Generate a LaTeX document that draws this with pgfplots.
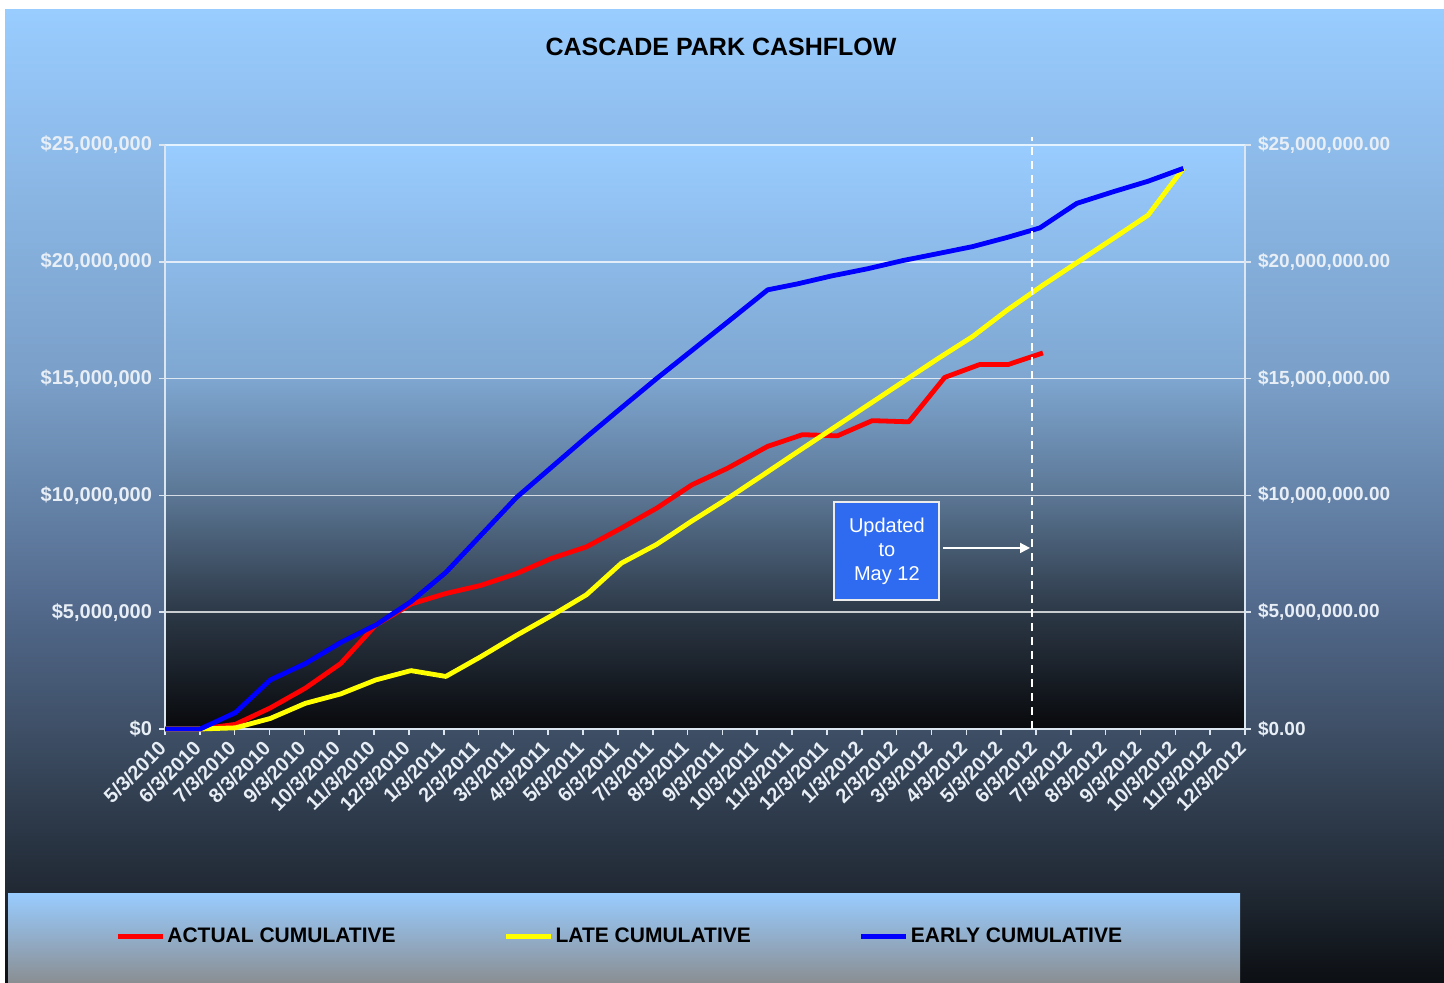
\documentclass[border=0pt]{standalone}
\usepackage{pgfplots}
\pgfplotsset{compat=1.18}
\usepackage{fontspec}
\setmainfont{Liberation Sans}
\usetikzlibrary{arrows.meta}

\definecolor{oA}{HTML}{99CCFF}
\definecolor{oB}{HTML}{7A9FC8}
\definecolor{oC}{HTML}{51688A}
\definecolor{oD}{HTML}{3E4F66}
\definecolor{oE}{HTML}{1E2630}
\definecolor{oF}{HTML}{0C0F13}
\definecolor{pA}{HTML}{99CCFF}
\definecolor{pB}{HTML}{7EA6D0}
\definecolor{pC}{HTML}{5B7694}
\definecolor{pD}{HTML}{2C3846}
\definecolor{pE}{HTML}{08090C}
\definecolor{legA}{HTML}{99CCFF}
\definecolor{legB}{HTML}{8A8E92}
\definecolor{axcol}{HTML}{DCE6F0}
\definecolor{lblcol}{HTML}{E8EEF5}
\definecolor{annblue}{HTML}{2F6BF0}
\definecolor{cRed}{HTML}{FF0000}
\definecolor{cYel}{HTML}{FFFF00}
\definecolor{cBlue}{HTML}{0000FF}

\pgfplotstableread{
x y
0 0
1.01 0
2.02 0.2
3.02 0.9
4.03 1.75
5.04 2.8
6.05 4.45
7.06 5.35
8.06 5.8
9.07 6.15
10.08 6.65
11.09 7.3
12.10 7.8
13.10 8.6
14.11 9.45
15.12 10.45
16.13 11.15
17.30 12.1
18.30 12.6
19.30 12.55
20.30 13.2
21.35 13.15
22.38 15.05
23.38 15.6
24.20 15.6
25.20 16.1
}\actual

\pgfplotstableread{
x y
0 0
1.01 0
2.02 0.05
3.02 0.45
4.03 1.1
5.04 1.5
6.05 2.1
7.06 2.5
8.06 2.25
9.07 3.1
10.08 4.0
11.09 4.85
12.10 5.75
13.10 7.1
14.11 7.9
15.12 8.9
16.13 9.85
17.14 10.85
18.14 11.85
19.15 12.85
20.16 13.85
21.17 14.85
22.18 15.85
23.18 16.8
24.19 17.95
25.20 19.0
26.21 20.0
27.22 21.0
28.22 22.0
29.23 24.0
}\late

\pgfplotstableread{
x y
0 0
1.01 0
2.02 0.7
3.02 2.1
4.03 2.8
5.04 3.7
6.05 4.45
7.06 5.45
8.06 6.7
9.07 8.3
10.08 9.9
11.09 11.2
12.10 12.5
13.10 13.75
14.11 15.0
15.12 16.2
16.13 17.4
17.30 18.8
18.14 19.05
19.15 19.4
20.16 19.7
21.17 20.05
22.18 20.35
23.18 20.65
24.19 21.05
25.11 21.45
26.17 22.5
27.22 23.0
28.22 23.45
29.23 24.0
}\early

\begin{document}
\begin{tikzpicture}
\begin{scope}[x=0.5pt,y=-0.5pt]
  \fill[white] (0,0) rectangle (1444,983);
  \shade[top color=oA, bottom color=oB] (5,10) rectangle (1444,380);
  \shade[top color=oB, bottom color=oC] (5,379) rectangle (1444,613);
  \shade[top color=oC, bottom color=oD] (5,612) rectangle (1444,730);
  \shade[top color=oD, bottom color=oE] (5,729) rectangle (1444,901);
  \shade[top color=oE, bottom color=oF] (5,900) rectangle (1444,983);
  \shade[top color=legA, bottom color=legB] (8,893) rectangle (1240,983);
  \shade[top color=pA, bottom color=pB] (165,145) rectangle (1245,380);
  \shade[top color=pB, bottom color=pC] (165,379) rectangle (1245,496);
  \shade[top color=pC, bottom color=pD] (165,495) rectangle (1245,613);
  \shade[top color=pD, bottom color=pE] (165,612) rectangle (1245,729);
  \node[font=\bfseries\fontsize{12.5}{15}\selectfont, text=black] at (721,47) {CASCADE PARK CASHFLOW};
\end{scope}

\begin{axis}[
  at={(82.5pt,-364.5pt)}, anchor=south west,
  scale only axis, width=540pt, height=292pt,
  xmin=0, xmax=31, ymin=0, ymax=25,
  clip=false,
  axis x line*=bottom, axis y line*=left,
  axis line style={axcol, line width=1pt, -},
  xtick={0,...,31},
  xticklabels={5/3/2010,6/3/2010,7/3/2010,8/3/2010,9/3/2010,10/3/2010,11/3/2010,12/3/2010,1/3/2011,2/3/2011,3/3/2011,4/3/2011,5/3/2011,6/3/2011,7/3/2011,8/3/2011,9/3/2011,10/3/2011,11/3/2011,12/3/2011,1/3/2012,2/3/2012,3/3/2012,4/3/2012,5/3/2012,6/3/2012,7/3/2012,8/3/2012,9/3/2012,10/3/2012,11/3/2012,12/3/2012},
  xticklabel style={yshift=-4pt, xshift=-0.5pt, rotate=45, anchor=east, text=lblcol, font=\bfseries\fontsize{10}{12}\selectfont, inner sep=1pt},
  ytick={0,5,10,15,20,25},
  yticklabels={{\$0},{\$5,000,000},{\$10,000,000},{\$15,000,000},{\$20,000,000},{\$25,000,000}},
  yticklabel style={text=lblcol, font=\bfseries\fontsize{10}{12}\selectfont},
  tick style={axcol, line width=0.8pt},
  tick align=outside, major tick length=3pt,
  ymajorgrids, grid style={white, opacity=0.75, line width=0.8pt},
  legend columns=3,
  legend style={at={(-0.0463,-0.356)}, anchor=west, draw=none, fill=none, text=black,
    font=\bfseries\fontsize{10.5}{12}\selectfont, inner sep=0pt,
    nodes={inner sep=1pt},
    /tikz/every even column/.append style={column sep=53pt}},
  legend image code/.code={\draw[#1, line width=2.5pt] (0pt,0pt) -- (22.5pt,0pt);},
]
\addplot[cRed, line width=2.4pt, line join=round, no markers] table[x=x,y=y] {\actual};
\addlegendentry{ACTUAL CUMULATIVE}
\addplot[cYel, line width=2.4pt, line join=round, no markers] table[x=x,y=y] {\late};
\addlegendentry{LATE CUMULATIVE}
\addplot[cBlue, line width=2.4pt, line join=round, no markers] table[x=x,y=y] {\early};
\addlegendentry{EARLY CUMULATIVE}

\draw[white, dash pattern=on 4pt off 3pt, line width=1pt] (axis cs:24.9,0) -- (axis cs:24.9,25.35);
\draw[white, line width=0.8pt, -{Triangle[length=5pt,width=5pt]}] (axis cs:22.33,7.75) -- (axis cs:24.83,7.75);
\node[fill=annblue, draw=white!85!gray, line width=1pt, text=white, align=center,
  minimum width=52.5pt, minimum height=49pt, inner sep=2pt,
  font=\fontsize{10}{12}\selectfont] at (axis cs:20.72,7.62) {Updated\\to\\May 12};
\end{axis}

\begin{axis}[
  at={(82.5pt,-364.5pt)}, anchor=south west,
  scale only axis, width=540pt, height=292pt,
  xmin=0, xmax=31, ymin=0, ymax=25,
  axis x line=none, axis y line*=right,
  axis line style={axcol, line width=1pt, -},
  ytick={0,5,10,15,20,25},
  yticklabels={{\$0.00},{\$5,000,000.00},{\$10,000,000.00},{\$15,000,000.00},{\$20,000,000.00},{\$25,000,000.00}},
  yticklabel style={text=lblcol, font=\bfseries\fontsize{9.5}{12}\selectfont},
  tick style={axcol, line width=0.8pt},
  tick align=outside, major tick length=3pt,
]
\addplot[draw=none, forget plot] coordinates {(0,0)};
\end{axis}
\end{tikzpicture}
\end{document}
